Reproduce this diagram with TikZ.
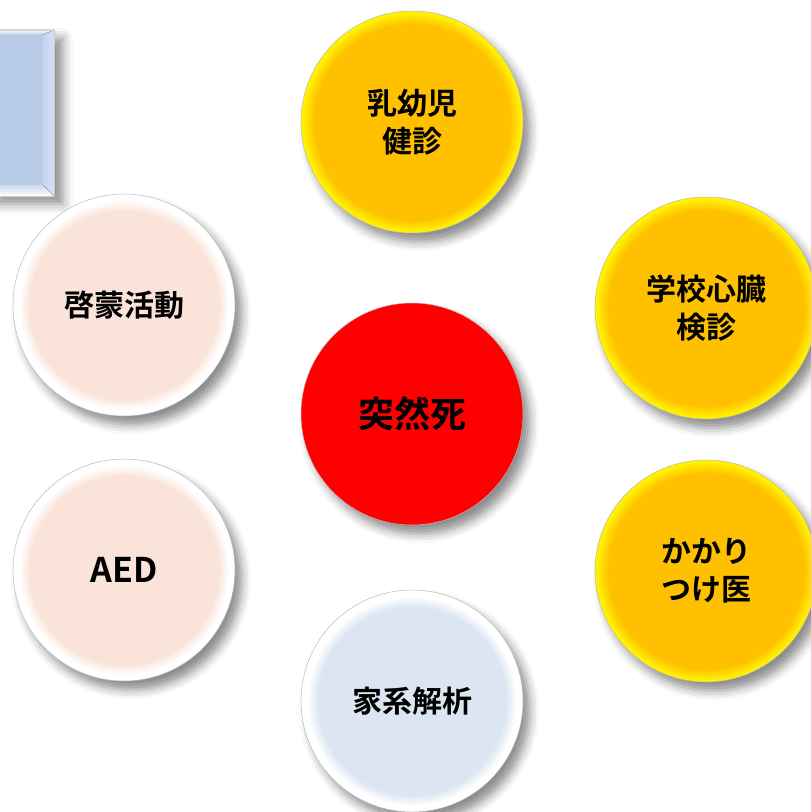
\documentclass[tikz,border=0pt]{standalone}
\usepackage{fontspec}
\newfontfamily\jp{Noto Sans CJK JP}[BoldFont={Noto Sans CJK JP Bold}]
\usetikzlibrary{shadows.blur}
\definecolor{goldc}{HTML}{FFC000}
\definecolor{rimyellow}{HTML}{FFF200}
\definecolor{peach}{HTML}{FAE3D8}
\definecolor{paleblue}{HTML}{DCE6F2}
\definecolor{faceblue}{HTML}{B7CBE8}
\definecolor{bevelblue}{HTML}{C4D5EE}
\pgfdeclareradialshading{yellowrim}{\pgfpoint{0bp}{0bp}}{color(0bp)=(goldc); color(22bp)=(goldc); color(24.6bp)=(rimyellow); color(25bp)=(rimyellow); color(50bp)=(rimyellow)}
\pgfdeclareradialshading{peachrim}{\pgfpoint{0bp}{0bp}}{color(0bp)=(peach); color(21.2bp)=(peach); color(23.6bp)=(white); color(25bp)=(white); color(50bp)=(white)}
\pgfdeclareradialshading{bluerim}{\pgfpoint{0bp}{0bp}}{color(0bp)=(paleblue); color(21.2bp)=(paleblue); color(23.6bp)=(white); color(25bp)=(white); color(50bp)=(white)}
\begin{document}
\begin{tikzpicture}[x=1pt,y=-1pt]
\useasboundingbox (0,0) rectangle (811,812);
\tikzset{
  shadowed/.style={blur shadow={shadow xshift=7pt,shadow yshift=-9pt,shadow blur radius=9pt,shadow opacity=45}},
  disc/.style={circle, minimum size=222pt, inner sep=0pt, draw=gray!55, line width=0.5pt, shadowed, align=center, font=\jp\bfseries\fontsize{30}{38}\selectfont, text=black},
  golddisc/.style={disc, shade, shading=yellowrim},
  peachdisc/.style={disc, shade, shading=peachrim},
  bluedisc/.style={disc, shade, shading=bluerim},
  reddisc/.style={disc, fill=red, font=\jp\bfseries\fontsize{36}{40}\selectfont},
  panel/.style={rectangle, minimum width=64pt, minimum height=166pt, inner sep=0pt, fill=faceblue, draw=gray!40, line width=0.4pt, blur shadow={shadow xshift=9pt,shadow yshift=-8pt,shadow blur radius=10pt,shadow opacity=45}}
}
% bevelled panel
\node[panel] (box) at (22,113) {};
\fill[top color=white, bottom color=faceblue] (box.north west) -- (box.north east) -- ([shift={(-11,5)}]box.north east) -- ([shift={(0,5)}]box.north west) -- cycle;
\fill[left color=bevelblue, right color=bevelblue!70!white] (box.north east) -- (box.south east) -- ([shift={(-11,-11)}]box.south east) -- ([shift={(-11,5)}]box.north east) -- cycle;
\fill[top color=faceblue!70!white, bottom color=white] (box.south west) -- (box.south east) -- ([shift={(-11,-11)}]box.south east) -- ([shift={(0,-11)}]box.south west) -- cycle;
\draw[gray!40, line width=0.4pt] (box.north west) rectangle (box.south east);
% circles
\node[golddisc] (nyuyoji) at (412,122) {乳幼児\\健診};
\node[peachdisc] (keimo) at (124,305) {啓蒙活動};
\node[golddisc] (gakko) at (706,308) {学校心臓\\検診};
\node[reddisc] (totsuzen) at (412,414) {突然死};
\node[peachdisc, font=\jp\bfseries\fontsize{34}{40}\selectfont] (aed) at (124,570) {AED};
\node[golddisc] (kakari) at (706,571) {かかり\\つけ医};
\node[bluedisc] (kakei) at (412,701) {家系解析};
\end{tikzpicture}
\end{document}
